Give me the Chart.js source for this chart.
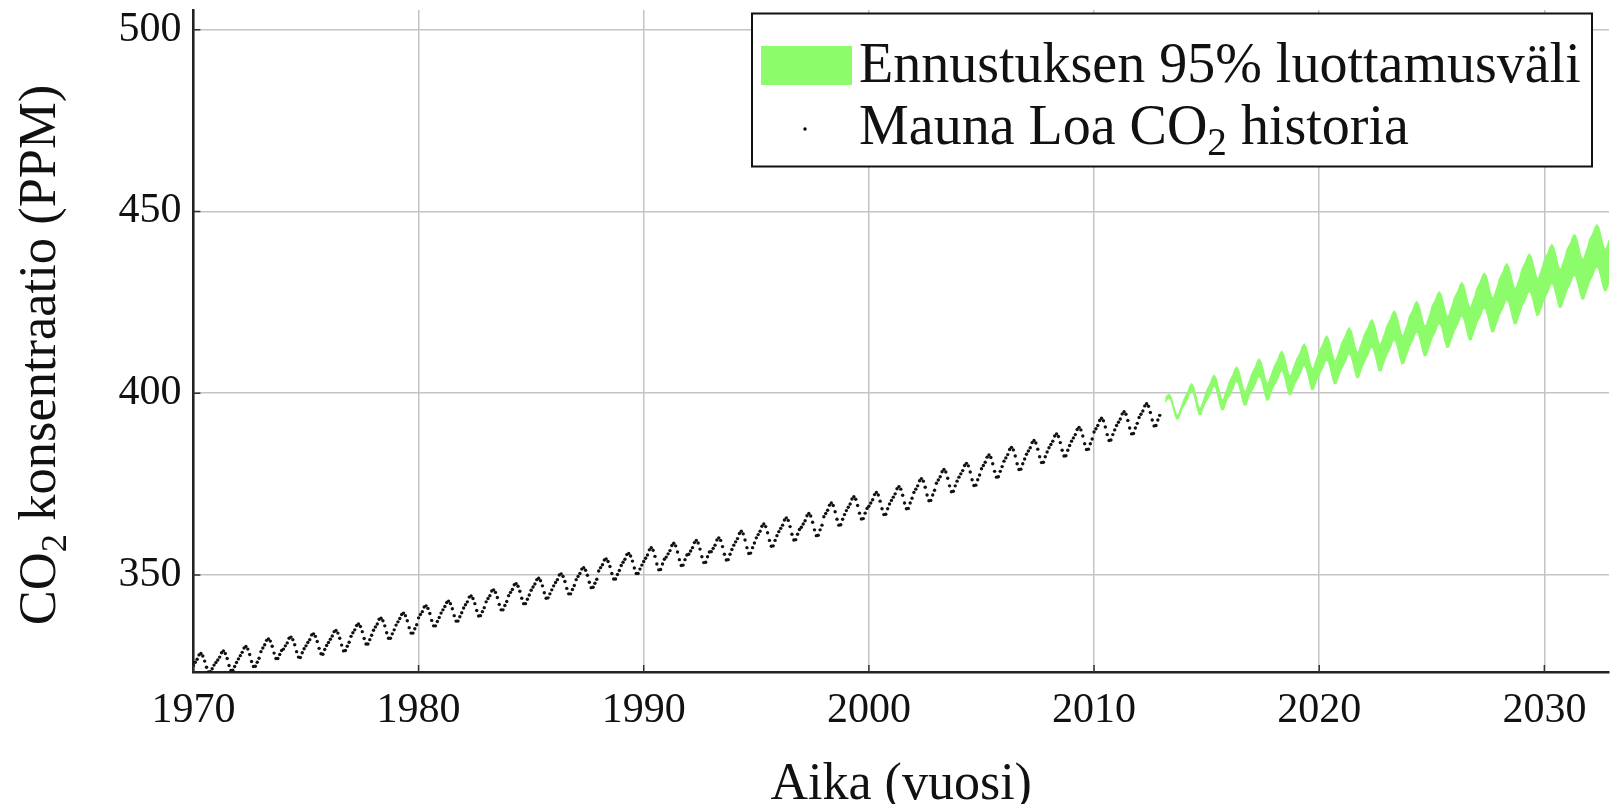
<!DOCTYPE html>
<html>
<head>
<meta charset="utf-8">
<script src="https://cdn.jsdelivr.net/npm/chart.js@4.4.1/dist/chart.umd.min.js"></script>
<style>
  html, body { margin: 0; padding: 0; background: #fff; }
  #wrap { width: 1613px; height: 804px; }
</style>
</head>
<body>
<div id="wrap"><canvas id="chart"></canvas></div>
<script>
// axis ticks
const xTicks = [1970, 1980, 1990, 2000, 2010, 2020, 2030];
const yTicks = [350, 400, 450, 500];

// Mauna Loa monthly CO2 (ppm), Jan 1970 .. Dec 2012, one row per year
const historyStart = 1970;
const co2History = [
  325.1, 326.0, 326.8, 328.0, 328.4, 327.7, 326.3, 324.6, 323.3, 323.4, 324.2, 325.2,
  325.9, 326.6, 327.4, 328.6, 329.1, 328.4, 327.0, 325.1, 323.7, 323.8, 324.8, 325.9,
  326.9, 327.8, 328.7, 329.9, 330.3, 329.6, 328.1, 326.2, 324.8, 324.9, 326.0, 327.1,
  328.9, 329.9, 330.8, 332.0, 332.4, 331.8, 330.4, 328.5, 327.0, 327.0, 328.1, 329.2,
  329.6, 330.5, 331.3, 332.6, 332.9, 332.2, 330.8, 328.9, 327.4, 327.3, 328.6, 329.7,
  330.5, 331.4, 332.2, 333.5, 333.8, 333.1, 331.7, 329.8, 328.3, 328.2, 329.5, 330.6,
  331.4, 332.3, 333.2, 334.4, 334.7, 334.0, 332.6, 330.7, 329.1, 329.2, 330.4, 331.5,
  333.1, 334.1, 334.9, 336.1, 336.5, 335.8, 334.4, 332.5, 331.0, 331.0, 332.2, 333.4,
  334.8, 335.7, 336.5, 337.8, 338.1, 337.4, 336.0, 334.1, 332.6, 332.6, 333.8, 334.9,
  336.2, 337.1, 338.0, 339.1, 339.5, 338.8, 337.4, 335.5, 334.0, 334.0, 335.2, 336.3,
  338.2, 339.1, 339.9, 341.2, 341.5, 340.8, 339.4, 337.5, 336.0, 336.0, 337.2, 338.3,
  339.5, 340.4, 341.3, 342.4, 342.8, 342.1, 340.7, 338.8, 337.3, 337.3, 338.5, 339.6,
  340.9, 341.8, 342.6, 343.9, 344.2, 343.5, 342.1, 340.2, 338.7, 338.8, 339.9, 341.0,
  342.6, 343.5, 344.3, 345.6, 345.9, 345.2, 343.8, 341.9, 340.4, 340.4, 341.6, 342.7,
  344.3, 345.2, 346.0, 347.3, 347.6, 346.9, 345.5, 343.6, 342.1, 342.1, 343.3, 344.5,
  345.8, 346.7, 347.5, 348.7, 349.1, 348.4, 347.0, 345.1, 343.6, 343.7, 344.8, 345.9,
  347.0, 347.9, 348.7, 350.0, 350.3, 349.6, 348.2, 346.3, 344.8, 344.8, 346.0, 347.1,
  348.7, 349.6, 350.4, 351.6, 352.0, 351.3, 349.9, 348.0, 346.5, 346.6, 347.7, 348.8,
  351.1, 352.0, 352.8, 354.1, 354.4, 353.7, 352.3, 350.4, 348.9, 348.9, 350.1, 351.2,
  352.6, 353.5, 354.3, 355.6, 355.9, 355.2, 353.8, 351.9, 350.4, 350.4, 351.6, 352.7,
  353.7, 354.6, 355.5, 356.9, 357.5, 356.8, 355.1, 353.0, 351.4, 351.5, 353.0, 354.3,
  354.9, 355.8, 356.7, 358.1, 358.7, 358.0, 356.3, 354.2, 352.6, 352.7, 354.2, 355.5,
  355.7, 356.6, 357.5, 358.9, 359.5, 358.8, 357.1, 355.0, 353.4, 353.5, 355.0, 356.3,
  356.4, 357.3, 358.2, 359.6, 360.2, 359.5, 357.8, 355.7, 354.1, 354.2, 355.7, 357.0,
  358.2, 359.1, 360.0, 361.4, 362.0, 361.3, 359.6, 357.5, 355.9, 356.0, 357.5, 358.8,
  360.2, 361.1, 362.0, 363.4, 364.0, 363.3, 361.6, 359.5, 357.9, 358.0, 359.5, 360.8,
  361.9, 362.8, 363.7, 365.1, 365.7, 365.0, 363.3, 361.2, 359.6, 359.7, 361.2, 362.5,
  363.1, 364.0, 364.9, 366.3, 366.9, 366.2, 364.5, 362.4, 360.8, 360.9, 362.4, 363.7,
  366.0, 366.9, 367.8, 369.2, 369.8, 369.1, 367.4, 365.3, 363.7, 363.8, 365.3, 366.6,
  367.7, 368.6, 369.5, 370.9, 371.5, 370.8, 369.1, 367.0, 365.4, 365.5, 367.0, 368.3,
  368.9, 369.8, 370.7, 372.1, 372.7, 372.0, 370.3, 368.2, 366.6, 366.7, 368.2, 369.5,
  370.5, 371.4, 372.3, 373.7, 374.3, 373.6, 371.9, 369.8, 368.2, 368.3, 369.8, 371.1,
  372.7, 373.6, 374.5, 375.9, 376.5, 375.8, 374.1, 372.0, 370.4, 370.5, 372.0, 373.3,
  375.2, 376.1, 377.0, 378.4, 379.0, 378.3, 376.6, 374.5, 372.9, 373.0, 374.5, 375.8,
  376.9, 377.8, 378.7, 380.1, 380.7, 380.0, 378.3, 376.2, 374.6, 374.7, 376.2, 377.5,
  379.2, 380.1, 381.0, 382.4, 383.0, 382.3, 380.6, 378.5, 376.9, 377.0, 378.5, 379.8,
  381.3, 382.2, 383.1, 384.5, 385.1, 384.4, 382.7, 380.6, 379.0, 379.1, 380.6, 381.9,
  383.2, 384.1, 385.0, 386.4, 387.0, 386.3, 384.6, 382.5, 380.9, 381.0, 382.5, 383.8,
  385.0, 385.9, 386.8, 388.2, 388.8, 388.1, 386.4, 384.3, 382.7, 382.8, 384.3, 385.6,
  386.8, 387.7, 388.6, 390.0, 390.6, 389.9, 388.2, 386.1, 384.5, 384.6, 386.1, 387.4,
  389.3, 390.2, 391.1, 392.5, 393.1, 392.4, 390.7, 388.6, 387.0, 387.1, 388.6, 389.9,
  391.1, 392.0, 392.9, 394.3, 394.9, 394.2, 392.5, 390.4, 388.8, 388.9, 390.4, 391.7,
  393.3, 394.2, 395.1, 396.5, 397.1, 396.4, 394.7, 392.6, 391.0, 391.1, 392.6, 393.9
];

// forecast mean (ppm), monthly from Mar 2013 .. Feb 2033
const forecastStart = 2013 + 2 / 12;
const forecastMid = [
                398.0, 398.8, 399.2, 398.5, 396.8, 394.8, 393.4, 393.6, 395.0, 396.4,
  397.5, 398.5, 399.5, 401.0, 401.7, 400.9, 399.0, 396.7, 395.0, 395.1, 396.7, 398.1,
  399.3, 400.3, 401.3, 402.8, 403.5, 402.7, 400.8, 398.5, 396.8, 396.9, 398.5, 399.9,
  401.1, 402.1, 403.1, 404.6, 405.3, 404.5, 402.6, 400.3, 398.6, 398.7, 400.3, 401.7,
  402.9, 403.9, 404.9, 406.4, 407.1, 406.3, 404.4, 402.1, 400.4, 400.5, 402.1, 403.5,
  404.7, 405.7, 406.7, 408.2, 408.9, 408.1, 406.2, 403.9, 402.2, 402.3, 403.9, 405.3,
  406.4, 407.4, 408.4, 409.9, 410.6, 409.8, 407.9, 405.6, 403.9, 404.0, 405.6, 407.0,
  408.3, 409.3, 410.3, 411.8, 412.5, 411.7, 409.8, 407.5, 405.8, 405.9, 407.5, 408.9,
  410.3, 411.3, 412.3, 413.8, 414.5, 413.7, 411.8, 409.5, 407.8, 407.9, 409.5, 410.9,
  412.3, 413.3, 414.3, 415.8, 416.5, 415.7, 413.8, 411.5, 409.8, 409.9, 411.5, 412.9,
  414.5, 415.5, 416.5, 418.0, 418.7, 417.9, 416.0, 413.7, 412.0, 412.1, 413.7, 415.1,
  416.9, 417.9, 418.9, 420.4, 421.1, 420.3, 418.4, 416.1, 414.4, 414.5, 416.1, 417.5,
  419.4, 420.4, 421.4, 422.9, 423.6, 422.8, 420.9, 418.6, 416.9, 417.0, 418.6, 420.0,
  421.7, 422.7, 423.7, 425.2, 425.9, 425.1, 423.2, 420.9, 419.2, 419.3, 420.9, 422.3,
  424.1, 425.1, 426.1, 427.6, 428.3, 427.5, 425.6, 423.3, 421.6, 421.7, 423.3, 424.7,
  426.5, 427.5, 428.5, 430.0, 430.7, 429.9, 428.0, 425.7, 424.0, 424.1, 425.7, 427.1,
  429.0, 430.0, 431.0, 432.5, 433.2, 432.4, 430.5, 428.2, 426.5, 426.6, 428.2, 429.6,
  431.4, 432.4, 433.4, 434.9, 435.6, 434.8, 432.9, 430.6, 428.9, 429.0, 430.6, 432.0,
  433.9, 434.9, 435.9, 437.4, 438.1, 437.3, 435.4, 433.1, 431.4, 431.5, 433.1, 434.5,
  436.4, 437.4, 438.4, 439.9, 440.6, 439.8, 437.9, 435.6, 433.9, 434.0, 435.6, 437.0,
  438.9, 439.9
];

// half width of the 95% interval (ppm) for each forecast year
const ciYears = [2013, 2014, 2015, 2016, 2017, 2018, 2019, 2020, 2021, 2022, 2023,
                 2024, 2025, 2026, 2027, 2028, 2029, 2030, 2031, 2032, 2033];
const ciHalfWidth = [0.5, 0.9, 1.4, 1.9, 2.3, 2.6, 2.9, 3.2, 3.5, 3.7, 3.9,
                     4.1, 4.3, 4.5, 4.7, 4.9, 5.1, 5.3, 5.5, 5.7, 5.9];

const bandLabel = "Ennustuksen 95% luottamusväli";
const historyLabel = ["Mauna Loa CO", "2", " historia"];
const yTitle = ["CO", "2", " konsentraatio (PPM)"];
const xTitle = "Aika (vuosi)";

const green = "#8cfc6a";
const serif = "'Liberation Serif', 'Times New Roman', serif";

let historyPts = co2History.map((v, i) => ({ x: historyStart + i / 12, y: v }));
let upperPts = [];
let lowerPts = [];
forecastMid.forEach((v, i) => {
    let x = forecastStart + i / 12;
    let hw = ciHalfWidth[ciYears.indexOf(Math.floor(x + 1e-6))];
    upperPts.push({ x: x, y: v + hw });
    lowerPts.push({ x: x, y: v - hw });
});

// text with a subscript part: [normal, sub, normal]
function drawSubText(ctx, parts, x, y, size) {
    let subSize = size * 0.7;
    ctx.font = size + "px " + serif;
    ctx.fillText(parts[0], x, y);
    x += ctx.measureText(parts[0]).width;
    ctx.font = subSize + "px " + serif;
    ctx.fillText(parts[1], x, y + size * 0.2);
    x += ctx.measureText(parts[1]).width;
    ctx.font = size + "px " + serif;
    ctx.fillText(parts[2], x, y);
}
function subTextWidth(ctx, parts, size) {
    ctx.font = size + "px " + serif;
    let w = ctx.measureText(parts[0]).width + ctx.measureText(parts[2]).width;
    ctx.font = (size * 0.7) + "px " + serif;
    return w + ctx.measureText(parts[1]).width;
}

const overlay = {
    id: "overlay",
    afterDraw(chart) {
        let ctx = chart.ctx;
        let area = chart.chartArea;
        let xs = chart.scales.x, ys = chart.scales.y;
        ctx.save();

        // small inner tick marks, pgfplots style
        ctx.strokeStyle = "#333";
        ctx.lineWidth = 1.5;
        ctx.beginPath();
        xTicks.forEach(v => {
            let px = xs.getPixelForValue(v);
            ctx.moveTo(px, area.bottom);
            ctx.lineTo(px, area.bottom - 7);
        });
        yTicks.forEach(v => {
            let py = ys.getPixelForValue(v);
            ctx.moveTo(area.left, py);
            ctx.lineTo(area.left + 7, py);
        });
        ctx.stroke();

        ctx.fillStyle = "#111";
        ctx.textBaseline = "alphabetic";
        ctx.textAlign = "left";

        // y axis title, rotated
        ctx.save();
        let tw = subTextWidth(ctx, yTitle, 52.5);
        ctx.translate(55, 355);
        ctx.rotate(-Math.PI / 2);
        drawSubText(ctx, yTitle, -tw / 2, 0, 52.5);
        ctx.restore();

        // legend box
        ctx.fillStyle = "#fff";
        ctx.fillRect(752, 13.5, 840, 153);
        ctx.strokeStyle = "#111";
        ctx.lineWidth = 2;
        ctx.strokeRect(752, 13.5, 840, 153);
        ctx.fillStyle = green;
        ctx.fillRect(761, 46, 91, 39);
        ctx.fillStyle = "#000";
        ctx.beginPath();
        ctx.arc(805, 129, 1.7, 0, Math.PI * 2);
        ctx.fill();
        ctx.fillStyle = "#111";
        ctx.font = "56px " + serif;
        ctx.fillText(bandLabel, 859, 82);
        drawSubText(ctx, historyLabel, 859, 144, 56);
        ctx.restore();
    }
};

new Chart(document.getElementById("chart"), {
    type: "line",
    data: {
        datasets: [
            {
                label: bandLabel,
                data: upperPts,
                borderColor: green,
                backgroundColor: green,
                borderWidth: 1.2,
                pointRadius: 0,
                fill: "+1",
                tension: 0
            },
            {
                label: "lower",
                data: lowerPts,
                borderColor: green,
                borderWidth: 1.2,
                pointRadius: 0,
                fill: false,
                tension: 0
            },
            {
                label: historyLabel.join(""),
                data: historyPts,
                showLine: false,
                pointRadius: 1.7,
                pointBackgroundColor: "#111",
                pointBorderWidth: 0
            }
        ]
    },
    options: {
        responsive: true,
        maintainAspectRatio: false,
        animation: false,
        devicePixelRatio: 1,
        layout: { padding: { top: 10, right: 0, bottom: 0, left: 9 } },
        plugins: {
            legend: { display: false },
            tooltip: { enabled: false }
        },
        scales: {
            x: {
                type: "linear",
                min: 1970,
                max: 2032.87,
                afterBuildTicks: (s) => { s.ticks = xTicks.map(v => ({ value: v })); },
                afterFit: (s) => { s.height = 132; s.paddingLeft = 0; s.paddingRight = 0; },
                grid: { color: "#c4c4c4", lineWidth: 1.5, drawTicks: false },
                border: { color: "#222", width: 2.5 },
                ticks: {
                    padding: 14,
                    autoSkip: false,
                    maxRotation: 0,
                    color: "#111",
                    font: { family: serif, size: 42 },
                    callback: (v) => String(v)
                },
                title: {
                    display: true,
                    text: xTitle,
                    color: "#111",
                    font: { family: serif, size: 52, lineHeight: 0.73 },
                    padding: 0
                }
            },
            y: {
                min: 323.3,
                max: 505.4,
                afterBuildTicks: (s) => { s.ticks = yTicks.map(v => ({ value: v })); },
                afterFit: (s) => { s.width = 184.4; s.paddingTop = 0; s.paddingBottom = 0; },
                grid: { color: "#c4c4c4", lineWidth: 1.5, drawTicks: false },
                border: { color: "#222", width: 2.5 },
                ticks: {
                    padding: 12,
                    autoSkip: false,
                    color: "#111",
                    font: { family: serif, size: 42 },
                    callback: (v) => String(v)
                }
            }
        }
    },
    plugins: [overlay]
});
</script>
</body>
</html>
